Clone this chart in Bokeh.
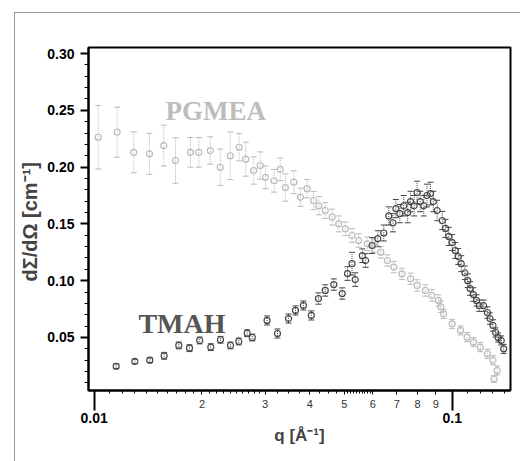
from bokeh.plotting import figure
from bokeh.models import (Range1d, LogAxis, FixedTicker, ColumnDataSource, Whisker, TeeHead,
                          PrintfTickFormatter)
from bokeh.core.properties import value
from bokeh.embed import file_html
from bokeh.resources import INLINE

# ---- data ----
pgmea_q = [0.01026, 0.01159, 0.01290, 0.01427, 0.01564, 0.01687, 0.01857, 0.0196, 0.0211, 0.0225,
           0.0240, 0.0254, 0.0265, 0.0279, 0.0291, 0.0301, 0.0318, 0.0331, 0.0342, 0.0361,
           0.0377, 0.0393, 0.0410, 0.0424, 0.0442, 0.0462, 0.0482, 0.0503, 0.0525, 0.0548,
           0.0579, 0.0604, 0.0632, 0.0659, 0.0687, 0.0724, 0.0765, 0.0798, 0.0842, 0.0877,
           0.0915, 0.0930, 0.0946, 0.1000, 0.1055, 0.1100, 0.1146, 0.1198, 0.1254, 0.1300,
           0.1336, 0.1310]
pgmea_i = [0.2263, 0.2307, 0.2130, 0.2117, 0.2190, 0.2058, 0.2130, 0.2130, 0.2146, 0.1999,
           0.2100, 0.2175, 0.2070, 0.1970, 0.2014, 0.1910, 0.1880, 0.1980, 0.1820, 0.1867,
           0.1735, 0.1810, 0.1706, 0.1660, 0.1618, 0.1560, 0.1500, 0.1457, 0.1398, 0.1354,
           0.1325, 0.1310, 0.1250, 0.1178, 0.1120, 0.1060, 0.1017, 0.0958, 0.0914, 0.0870,
           0.0826, 0.0770, 0.0708, 0.0620, 0.0562, 0.0503, 0.0459, 0.0415, 0.0357, 0.0300,
           0.0210, 0.0135]
pgmea_err = [0.028, 0.022, 0.018, 0.018, 0.018, 0.020, 0.013, 0.013, 0.012, 0.016,
             0.021, 0.012, 0.015, 0.012, 0.012, 0.010, 0.010, 0.010, 0.012, 0.010,
             0.008, 0.008, 0.008, 0.008, 0.007, 0.007, 0.007, 0.006, 0.006, 0.006,
             0.006, 0.006, 0.005, 0.005, 0.005, 0.005, 0.005, 0.005, 0.005, 0.005,
             0.005, 0.005, 0.004, 0.004, 0.004, 0.004, 0.004, 0.004, 0.004, 0.004,
             0.004, 0.003]

tmah_q = [0.01152, 0.01299, 0.0143, 0.01568, 0.01723, 0.01846, 0.01972, 0.02117, 0.02253, 0.02403,
          0.02535, 0.02675, 0.02765, 0.0304, 0.0325, 0.0349, 0.0365, 0.0384, 0.0404, 0.0423,
          0.0442, 0.0467, 0.0493, 0.0510, 0.0525, 0.0536, 0.0561, 0.0573, 0.0597, 0.0620,
          0.0644, 0.0665, 0.0683, 0.0696, 0.0714, 0.0732, 0.0751, 0.0765, 0.0783, 0.0798,
          0.0814, 0.0833, 0.0850, 0.0870, 0.0886, 0.0908, 0.0938, 0.0958, 0.0978, 0.1000,
          0.1020, 0.1040, 0.1060, 0.1085, 0.1105, 0.1122, 0.1146, 0.1170, 0.1190, 0.1224,
          0.1254, 0.1275, 0.1300, 0.1322, 0.1344, 0.1371, 0.1393]
tmah_i = [0.0247, 0.0289, 0.0300, 0.0339, 0.0430, 0.0406, 0.0474, 0.0415, 0.0480, 0.0430,
          0.0465, 0.0538, 0.0500, 0.0650, 0.0535, 0.0667, 0.0738, 0.0782, 0.0694, 0.0843,
          0.0914, 0.0966, 0.0887, 0.1063, 0.1150, 0.1010, 0.1220, 0.1178, 0.1310, 0.1370,
          0.1420, 0.1570, 0.1510, 0.1635, 0.1590, 0.1660, 0.1600, 0.1697, 0.1660, 0.1776,
          0.1697, 0.1660, 0.1750, 0.1767, 0.1697, 0.1618, 0.1530, 0.1460, 0.1390, 0.1336,
          0.1266, 0.1213, 0.1150, 0.1070, 0.1000, 0.0931, 0.0878, 0.0826, 0.0780, 0.0780,
          0.0720, 0.0667, 0.0606, 0.0544, 0.0500, 0.0474, 0.0400]
tmah_err = [0.002, 0.002, 0.002, 0.003, 0.003, 0.003, 0.003, 0.003, 0.003, 0.003,
            0.003, 0.003, 0.003, 0.004, 0.004, 0.004, 0.004, 0.004, 0.004, 0.005,
            0.005, 0.005, 0.005, 0.006, 0.010, 0.006, 0.006, 0.006, 0.007, 0.007,
            0.007, 0.008, 0.008, 0.008, 0.008, 0.009, 0.009, 0.009, 0.009, 0.010,
            0.009, 0.009, 0.010, 0.010, 0.009, 0.009, 0.008, 0.008, 0.008, 0.007,
            0.007, 0.007, 0.007, 0.006, 0.006, 0.006, 0.006, 0.005, 0.005, 0.005,
            0.005, 0.005, 0.005, 0.004, 0.004, 0.004, 0.004]

x_major = [0.01, 0.1]
x_major_labels = ["0.01", "0.1"]
x_digit_ticks = [0.02, 0.03, 0.04, 0.05, 0.06, 0.07, 0.08, 0.09]
x_digit_labels = ["2", "3", "4", "5", "6", "7", "8", "9"]
x_minor = ([0.011, 0.012, 0.013, 0.014, 0.015, 0.016, 0.017, 0.018, 0.019,
            0.021, 0.022, 0.023, 0.024, 0.025, 0.026, 0.027, 0.028, 0.029,
            0.0325, 0.035, 0.0375, 0.0425, 0.045, 0.0475,
            0.051, 0.052, 0.053, 0.054, 0.055, 0.056, 0.057, 0.058, 0.059,
            0.11, 0.12, 0.13, 0.14])
y_major = [0.05, 0.10, 0.15, 0.20, 0.25, 0.30]
y_minor = [0.01, 0.02, 0.03, 0.04, 0.06, 0.07, 0.08, 0.09, 0.11, 0.12, 0.13, 0.14,
           0.16, 0.17, 0.18, 0.19, 0.21, 0.22, 0.23, 0.24, 0.26, 0.27, 0.28, 0.29]

PG_COL = "#bababa"
TM_COL = "#474747"
FONT = "Liberation Sans"

p = figure(x_axis_type="log", x_axis_location=None, y_axis_type="linear",
           x_range=Range1d(0.00964, 0.1455), y_range=Range1d(0.00334, 0.3053),
           frame_width=422, frame_height=343,
           min_border_left=73, min_border_right=10, min_border_top=34, min_border_bottom=71,
           output_backend="svg", toolbar_location=None)
p.styles = {"margin-left": "14px", "margin-top": "12px",
            "border-left": "1px solid #9a9a9a", "border-top": "1px solid #9a9a9a"}
p.grid.visible = False
p.outline_line_color = "black"
p.outline_line_width = 2
p.background_fill_color = "white"

# y axis
ya = p.yaxis[0]
ya.ticker = FixedTicker(ticks=y_major, minor_ticks=y_minor)
ya.formatter = PrintfTickFormatter(format="%.2f")
ya.axis_line_width = 2
ya.major_tick_out = 8
ya.major_tick_in = 0
ya.minor_tick_out = 4
ya.minor_tick_in = 0
ya.major_tick_line_width = 2
ya.major_label_standoff = 6
ya.major_label_text_font = FONT
ya.major_label_text_font_style = "bold"
ya.major_label_text_font_size = "14px"
ya.major_label_text_color = "black"
ya.axis_label = "dΣ/dΩ  [cm⁻¹]"
ya.axis_label_text_font = FONT
ya.axis_label_text_font_style = "bold"
ya.axis_label_text_font_size = "20px"
ya.axis_label_standoff = 3

# x axis with digit labels (closest to the plot)
xa = LogAxis(ticker=FixedTicker(ticks=x_major + x_digit_ticks, minor_ticks=x_minor))
xa.major_label_overrides = {**{t: "" for t in x_major},
                            **{t: l for t, l in zip(x_digit_ticks, x_digit_labels)}}
xa.axis_line_width = 2
xa.major_tick_out = 4
xa.major_tick_in = 0
xa.minor_tick_out = 3
xa.minor_tick_in = 0
xa.major_label_standoff = 5
xa.major_label_text_font = FONT
xa.major_label_text_font_size = "11px"
xa.major_label_text_color = "#333333"
p.add_layout(xa, "below")

# x axis with the decade labels
xb = LogAxis(ticker=FixedTicker(ticks=x_major, minor_ticks=[]))
xb.major_label_overrides = {t: l for t, l in zip(x_major, x_major_labels)}
xb.axis_line_color = None
xb.major_tick_in = 20
xb.major_tick_out = 0
xb.major_tick_line_width = 2
xb.major_label_standoff = 2
xb.major_label_text_font = FONT
xb.major_label_text_font_style = "bold"
xb.major_label_text_font_size = "14px"
xb.major_label_text_color = "black"
xb.axis_label = "q [Å⁻¹]"
xb.axis_label_text_font = FONT
xb.axis_label_text_font_style = "bold"
xb.axis_label_text_font_size = "17px"
xb.axis_label_standoff = 0
p.add_layout(xb, "below")

# data
pg = ColumnDataSource(dict(q=pgmea_q, i=pgmea_i,
                           lo=[a - e for a, e in zip(pgmea_i, pgmea_err)],
                           hi=[a + e for a, e in zip(pgmea_i, pgmea_err)]))
tm = ColumnDataSource(dict(q=tmah_q, i=tmah_i,
                           lo=[a - e for a, e in zip(tmah_i, tmah_err)],
                           hi=[a + e for a, e in zip(tmah_i, tmah_err)]))

for src, col in ((pg, PG_COL), (tm, TM_COL)):
    w = Whisker(base="q", lower="lo", upper="hi", source=src, line_color=col, line_width=1,
                line_dash="1 1",
                lower_head=TeeHead(size=6, line_color=col, line_width=1),
                upper_head=TeeHead(size=6, line_color=col, line_width=1))
    p.add_layout(w)
    p.scatter("q", "i", source=src, marker="circle", size=6, fill_color=None,
              line_color=col, line_width=1.2)

p.text(x=[0.01582], y=[0.2498], text=["PGMEA"], text_font=value("Liberation Serif"),
       text_font_style="bold", text_font_size="27px", text_color="#bdbdbd",
       text_baseline="alphabetic", text_align="left")
p.text(x=[0.01329], y=[0.0623], text=["TMAH"], text_font=value("Liberation Serif"),
       text_font_style="bold", text_font_size="28px", text_color="#555555",
       text_baseline="alphabetic", text_align="left")

open("out.html", "w").write(file_html(p, INLINE))
